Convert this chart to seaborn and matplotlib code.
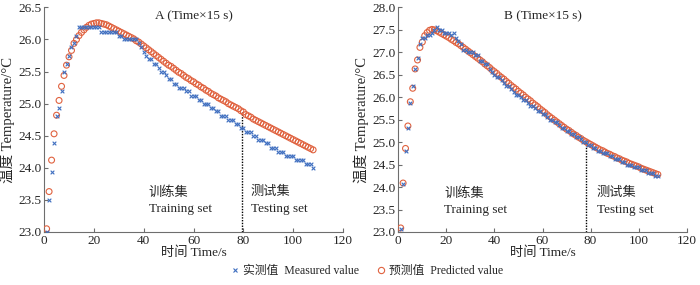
import matplotlib
matplotlib.use("Agg")
import matplotlib.pyplot as plt
from matplotlib.lines import Line2D
import seaborn as sns
import pandas as pd

time = list(range(1, 109))

a_measured = [
    23.00, 23.50, 23.94, 24.38, 24.81, 24.94, 25.19, 25.50, 25.62, 25.75,
    25.88, 25.94, 26.06, 26.19, 26.19, 26.19, 26.19, 26.19, 26.19, 26.19,
    26.19, 26.19, 26.12, 26.12, 26.12, 26.12, 26.12, 26.12, 26.12, 26.06,
    26.06, 26.00, 26.00, 26.00, 26.00, 26.00, 26.00, 25.94, 25.88, 25.81,
    25.75, 25.69, 25.69, 25.62, 25.62, 25.56, 25.50, 25.50, 25.44, 25.38,
    25.38, 25.31, 25.31, 25.25, 25.25, 25.25, 25.19, 25.19, 25.12, 25.12,
    25.12, 25.06, 25.06, 25.00, 25.00, 25.00, 24.94, 24.94, 24.88, 24.88,
    24.81, 24.81, 24.81, 24.75, 24.75, 24.75, 24.69, 24.69, 24.62, 24.62,
    24.56, 24.56, 24.56, 24.50, 24.50, 24.44, 24.44, 24.44, 24.38, 24.38,
    24.31, 24.31, 24.31, 24.25, 24.25, 24.25, 24.19, 24.19, 24.19, 24.19,
    24.12, 24.12, 24.12, 24.12, 24.06, 24.06, 24.06, 24.00]

a_predicted = [
    23.05, 23.63, 24.12, 24.53, 24.82, 25.05, 25.27, 25.44, 25.60, 25.73,
    25.83, 25.94, 26.00, 26.06, 26.11, 26.15, 26.19, 26.22, 26.24, 26.25,
    26.26, 26.26, 26.25, 26.24, 26.23, 26.21, 26.19, 26.17, 26.15, 26.13,
    26.11, 26.09, 26.07, 26.05, 26.03, 26.01, 25.98, 25.96, 25.93, 25.90,
    25.87, 25.84, 25.81, 25.78, 25.75, 25.72, 25.69, 25.66, 25.63, 25.60,
    25.58, 25.55, 25.52, 25.49, 25.47, 25.44, 25.41, 25.39, 25.36, 25.34,
    25.31, 25.29, 25.26, 25.24, 25.21, 25.19, 25.16, 25.14, 25.12, 25.09,
    25.07, 25.05, 25.03, 25.00, 24.98, 24.96, 24.94, 24.92, 24.89, 24.87,
    24.83, 24.81, 24.79, 24.76, 24.74, 24.72, 24.70, 24.68, 24.66, 24.64,
    24.62, 24.60, 24.58, 24.56, 24.54, 24.52, 24.50, 24.48, 24.46, 24.44,
    24.42, 24.40, 24.38, 24.36, 24.34, 24.32, 24.30, 24.28]

b_measured = [
    23.06, 24.06, 24.81, 25.31, 25.88, 26.25, 26.62, 26.88, 27.19, 27.31,
    27.31, 27.38, 27.38, 27.44, 27.50, 27.56, 27.50, 27.50, 27.44, 27.44,
    27.44, 27.38, 27.44, 27.31, 27.25, 27.19, 27.06, 27.06, 27.00, 27.00,
    27.00, 26.94, 26.94, 26.81, 26.81, 26.75, 26.75, 26.62, 26.56, 26.50,
    26.44, 26.44, 26.38, 26.31, 26.25, 26.25, 26.19, 26.12, 26.06, 26.06,
    26.00, 25.94, 25.94, 25.88, 25.81, 25.81, 25.75, 25.69, 25.69, 25.62,
    25.62, 25.56, 25.50, 25.50, 25.44, 25.44, 25.38, 25.31, 25.31, 25.25,
    25.25, 25.19, 25.19, 25.12, 25.12, 25.06, 25.00, 25.00, 24.94, 24.94,
    24.88, 24.88, 24.81, 24.81, 24.75, 24.75, 24.75, 24.69, 24.69, 24.62,
    24.62, 24.62, 24.56, 24.56, 24.50, 24.50, 24.50, 24.44, 24.44, 24.44,
    24.38, 24.38, 24.38, 24.31, 24.31, 24.31, 24.25, 24.25]

b_predicted = [
    23.09, 24.09, 24.86, 25.36, 25.90, 26.20, 26.63, 26.83, 27.11, 27.23,
    27.37, 27.44, 27.49, 27.51, 27.50, 27.48, 27.45, 27.42, 27.39, 27.36,
    27.33, 27.29, 27.26, 27.22, 27.19, 27.15, 27.11, 27.07, 27.03, 26.99,
    26.95, 26.91, 26.87, 26.83, 26.79, 26.74, 26.70, 26.66, 26.61, 26.57,
    26.53, 26.48, 26.44, 26.40, 26.35, 26.31, 26.26, 26.22, 26.18, 26.13,
    26.09, 26.05, 26.00, 25.96, 25.92, 25.87, 25.83, 25.79, 25.74, 25.70,
    25.66, 25.61, 25.57, 25.53, 25.49, 25.45, 25.41, 25.37, 25.33, 25.29,
    25.26, 25.22, 25.18, 25.15, 25.11, 25.08, 25.04, 25.01, 24.98, 24.95,
    24.92, 24.89, 24.86, 24.83, 24.81, 24.78, 24.75, 24.73, 24.70, 24.68,
    24.65, 24.63, 24.60, 24.58, 24.56, 24.53, 24.51, 24.49, 24.47, 24.45,
    24.42, 24.40, 24.38, 24.36, 24.34, 24.32, 24.30, 24.28]

panel_titles = ["A (Time\u00d715 s)", "B (Time\u00d715 s)"]
split_times = [79.5, 78.0]
y_limits = [(23.0, 26.5), (23.0, 28.0)]
xlabel = "时间 Time/s"
ylabel = "温度 Temperature/°C"
legend_labels = ["实测值  Measured value", "预测值  Predicted value"]

sns.set_theme(style="ticks")
plt.rcParams["font.family"] = ["Liberation Serif", "Noto Sans CJK SC"]
plt.rcParams["axes.unicode_minus"] = False

BLUE = "#3f6fc0"
RED = "#e0623f"
SPINE = "#6e6e6e"

fig = plt.figure(figsize=(7.0, 2.85), dpi=100)
axA = fig.add_axes([0.063, 0.186, 0.427, 0.788])
axB = fig.add_axes([0.569, 0.186, 0.412, 0.788])

datasets = [(a_measured, a_predicted), (b_measured, b_predicted)]
label_pos = [((42, 23.62), (42, 23.36), (83, 23.62), (83, 23.36)),
             ((19, 23.86), (19, 23.50), (82.5, 23.86), (82.5, 23.50))]

for i, ax in enumerate([axA, axB]):
    meas, pred = datasets[i]
    df = pd.DataFrame({"time": time, "measured": meas, "predicted": pred})
    sns.scatterplot(data=df, x="time", y="predicted", ax=ax, marker="o",
                    s=18, linewidth=0.8, zorder=3, legend=False)
    coll = ax.collections[-1]
    coll.set_facecolor("none")
    coll.set_edgecolor(RED)
    sns.scatterplot(data=df, x="time", y="measured", ax=ax, marker="x",
                    s=7, linewidth=0.8, color=BLUE, zorder=4, legend=False)

    st = split_times[i]
    ytop = pred[int(round(st)) - 1]
    ax.plot([st, st], [y_limits[i][0], ytop], color="black", lw=1.0,
            ls=(0, (1, 1)), zorder=2)

    ax.set_xlim(0, 120)
    ax.set_ylim(*y_limits[i])
    ax.set_xticks(range(0, 121, 20))
    lo, hi = y_limits[i]
    n = int(round((hi - lo) / 0.5))
    ax.set_yticks([lo + 0.5 * k for k in range(n + 1)])
    ax.yaxis.set_major_formatter(matplotlib.ticker.FormatStrFormatter("%.1f"))
    ax.tick_params(direction="in", length=3, width=0.8, color=SPINE,
                   labelsize=9.5, pad=2)
    for side in ["top", "right"]:
        ax.spines[side].set_visible(False)
    for side in ["left", "bottom"]:
        ax.spines[side].set_color(SPINE)
        ax.spines[side].set_linewidth(0.8)
    ax.set_xlabel(xlabel, fontsize=9.5, labelpad=0)
    ax.set_ylabel(ylabel, fontsize=10.5, labelpad=2)
    ax.text(0.5, 0.985, panel_titles[i], transform=ax.transAxes,
            ha="center", va="top", fontsize=9.5)

    p = label_pos[i]
    ax.text(p[0][0], p[0][1], "训练集", fontsize=9.5, va="center", ha="left")
    ax.text(p[1][0], p[1][1], "Training set", fontsize=9.5, va="center", ha="left")
    ax.text(p[2][0], p[2][1], "测试集", fontsize=9.5, va="center", ha="left")
    ax.text(p[3][0], p[3][1], "Testing set", fontsize=9.5, va="center", ha="left")

handles = [
    Line2D([], [], marker="x", ls="none", color=BLUE, markersize=3.5, mew=0.8),
    Line2D([], [], marker="o", ls="none", markerfacecolor="none",
           markeredgecolor=RED, markersize=4.5, mew=0.8),
]
fig.legend(handles, legend_labels, loc="center", bbox_to_anchor=(0.523, 0.05),
           ncol=2, frameon=False, fontsize=8.5, handletextpad=0.2,
           columnspacing=1.4, handlelength=1.0)

fig.savefig("out.png", dpi=100)
